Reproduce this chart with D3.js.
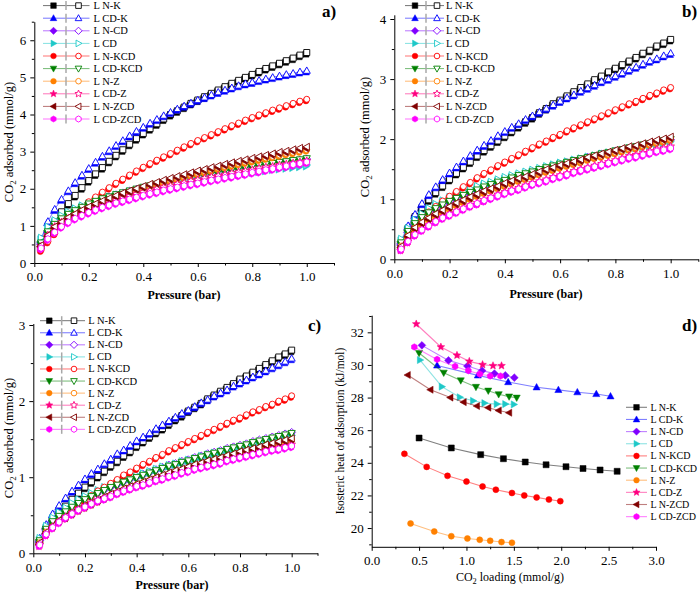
<!DOCTYPE html>
<html><head><meta charset="utf-8">
<script src="https://cdn.jsdelivr.net/npm/d3@7"></script>
<style>body{margin:0;background:#fff}svg text{font-family:"Liberation Serif","Times New Roman",serif;fill:#000}</style>
</head><body><svg id="chart" width="700" height="594"></svg>
<script>
// ---------------- DATA ----------------
const seriesLabels = ["L N-K","L CD-K","L N-CD","L CD","L N-KCD","L CD-KCD","L N-Z","L CD-Z","L N-ZCD","L CD-ZCD"];
const pressure = [0.025,0.05,0.075,0.1,0.125,0.15,0.175,0.2,0.225,0.25,0.275,0.3,0.325,0.35,0.375,0.4,0.425,0.45,0.475,0.5,0.525,0.55,0.575,0.6,0.625,0.65,0.675,0.7,0.725,0.75,0.775,0.8,0.825,0.85,0.875,0.9,0.925,0.95,0.975,1.0];

// panel a)
const a_NK    = [0.45,0.80,1.10,1.38,1.60,1.82,2.03,2.22,2.40,2.57,2.74,2.90,3.05,3.20,3.35,3.49,3.62,3.75,3.88,4.00,4.10,4.20,4.30,4.39,4.48,4.57,4.66,4.75,4.84,4.92,5.00,5.08,5.16,5.24,5.31,5.38,5.45,5.52,5.60,5.67];
const a_CDK   = [0.65,1.12,1.45,1.72,1.95,2.17,2.37,2.55,2.72,2.88,3.03,3.17,3.30,3.43,3.55,3.66,3.77,3.87,3.97,4.06,4.15,4.23,4.31,4.39,4.46,4.53,4.60,4.66,4.72,4.78,4.83,4.87,4.92,4.96,5.00,5.04,5.08,5.11,5.15,5.18];
const a_NCD   = [0.55,0.85,1.05,1.19,1.31,1.41,1.50,1.59,1.66,1.72,1.78,1.84,1.89,1.94,1.99,2.03,2.07,2.12,2.16,2.20,2.23,2.27,2.31,2.34,2.37,2.41,2.44,2.47,2.50,2.53,2.56,2.59,2.62,2.65,2.67,2.70,2.72,2.75,2.77,2.80];
const a_CD    = [0.68,0.98,1.15,1.28,1.38,1.47,1.55,1.62,1.69,1.74,1.79,1.84,1.88,1.93,1.97,2.01,2.04,2.08,2.11,2.14,2.18,2.21,2.24,2.27,2.29,2.32,2.35,2.37,2.40,2.42,2.44,2.47,2.49,2.51,2.54,2.56,2.58,2.60,2.62,2.64];
const a_NKCD  = [0.35,0.58,0.80,1.00,1.18,1.35,1.50,1.65,1.78,1.91,2.03,2.15,2.26,2.37,2.48,2.58,2.68,2.77,2.86,2.95,3.04,3.13,3.22,3.30,3.38,3.46,3.54,3.62,3.70,3.77,3.85,3.92,3.99,4.05,4.12,4.18,4.24,4.30,4.36,4.41];
const a_CDKCD = [0.55,0.85,1.05,1.20,1.32,1.42,1.51,1.60,1.67,1.74,1.79,1.85,1.90,1.95,2.00,2.05,2.09,2.13,2.17,2.21,2.25,2.29,2.32,2.36,2.39,2.43,2.46,2.49,2.52,2.55,2.58,2.61,2.64,2.66,2.69,2.72,2.74,2.77,2.79,2.82];
const a_NZ    = [0.42,0.72,0.95,1.08,1.20,1.30,1.39,1.48,1.56,1.63,1.70,1.78,1.84,1.90,1.96,2.02,2.07,2.13,2.18,2.23,2.28,2.33,2.38,2.42,2.47,2.51,2.56,2.60,2.64,2.68,2.72,2.76,2.80,2.83,2.87,2.91,2.95,2.98,3.02,3.05];
const a_CDZ   = [0.45,0.75,0.98,1.10,1.20,1.29,1.38,1.45,1.52,1.58,1.64,1.70,1.76,1.81,1.86,1.91,1.95,2.00,2.04,2.08,2.13,2.16,2.21,2.24,2.28,2.32,2.35,2.38,2.42,2.45,2.48,2.51,2.55,2.58,2.60,2.64,2.66,2.69,2.72,2.75];
const a_NZCD  = [0.48,0.75,0.98,1.11,1.23,1.33,1.43,1.52,1.60,1.68,1.75,1.82,1.89,1.95,2.01,2.07,2.13,2.18,2.24,2.29,2.34,2.39,2.44,2.49,2.53,2.58,2.62,2.67,2.71,2.75,2.79,2.83,2.87,2.91,2.95,2.99,3.02,3.06,3.10,3.13];
const a_CDZCD = [0.40,0.65,0.83,0.98,1.10,1.20,1.28,1.36,1.43,1.50,1.56,1.62,1.67,1.72,1.77,1.82,1.87,1.91,1.96,2.00,2.04,2.08,2.12,2.15,2.19,2.23,2.26,2.30,2.33,2.37,2.40,2.44,2.47,2.51,2.54,2.58,2.61,2.65,2.68,2.72];

// panel b)
const b_NK    = [0.27,0.52,0.71,0.86,0.99,1.11,1.22,1.33,1.43,1.53,1.62,1.72,1.81,1.89,1.97,2.05,2.13,2.21,2.29,2.36,2.44,2.51,2.59,2.65,2.72,2.79,2.86,2.92,2.99,3.05,3.12,3.18,3.24,3.30,3.36,3.43,3.48,3.55,3.60,3.66];
const b_CDK   = [0.30,0.56,0.75,0.93,1.08,1.21,1.33,1.44,1.54,1.64,1.73,1.82,1.90,1.98,2.06,2.13,2.20,2.26,2.33,2.39,2.45,2.51,2.57,2.63,2.69,2.74,2.80,2.85,2.90,2.96,3.00,3.05,3.10,3.15,3.20,3.25,3.30,3.34,3.39,3.43];
const b_NCD   = [0.28,0.47,0.60,0.70,0.78,0.85,0.91,0.97,1.02,1.07,1.11,1.16,1.20,1.24,1.28,1.32,1.36,1.39,1.43,1.46,1.49,1.52,1.55,1.58,1.61,1.64,1.67,1.70,1.72,1.75,1.77,1.80,1.82,1.85,1.87,1.90,1.92,1.94,1.97,1.99];
const b_CD    = [0.34,0.52,0.66,0.76,0.85,0.92,0.98,1.04,1.09,1.13,1.18,1.22,1.26,1.29,1.33,1.37,1.40,1.43,1.46,1.49,1.52,1.55,1.58,1.61,1.63,1.66,1.68,1.71,1.73,1.76,1.78,1.80,1.82,1.85,1.87,1.89,1.91,1.93,1.95,1.97];
const b_NKCD  = [0.20,0.40,0.55,0.68,0.79,0.88,0.97,1.05,1.13,1.21,1.28,1.36,1.43,1.49,1.56,1.62,1.68,1.74,1.80,1.86,1.92,1.97,2.03,2.08,2.14,2.19,2.24,2.29,2.34,2.39,2.44,2.49,2.54,2.59,2.63,2.68,2.73,2.77,2.82,2.86];
const b_CDKCD = [0.28,0.47,0.60,0.70,0.78,0.85,0.91,0.97,1.02,1.07,1.12,1.16,1.21,1.25,1.29,1.32,1.36,1.40,1.43,1.46,1.50,1.53,1.56,1.59,1.62,1.65,1.68,1.70,1.73,1.76,1.78,1.81,1.83,1.86,1.88,1.91,1.93,1.95,1.98,2.00];
const b_NZ    = [0.22,0.39,0.52,0.61,0.68,0.74,0.80,0.86,0.92,0.97,1.02,1.07,1.12,1.16,1.20,1.24,1.28,1.32,1.35,1.39,1.43,1.47,1.50,1.54,1.57,1.60,1.63,1.67,1.70,1.72,1.75,1.78,1.81,1.84,1.86,1.89,1.92,1.95,1.97,2.00];
const b_CDZ   = [0.17,0.30,0.42,0.50,0.57,0.64,0.70,0.75,0.80,0.85,0.90,0.94,0.99,1.04,1.08,1.12,1.16,1.19,1.23,1.27,1.30,1.33,1.37,1.40,1.43,1.47,1.50,1.53,1.56,1.59,1.62,1.65,1.68,1.72,1.74,1.77,1.80,1.83,1.85,1.88];
const b_NZCD  = [0.22,0.40,0.53,0.62,0.69,0.76,0.82,0.88,0.94,0.99,1.04,1.09,1.14,1.18,1.22,1.27,1.31,1.35,1.38,1.42,1.46,1.50,1.53,1.57,1.60,1.63,1.66,1.70,1.73,1.76,1.79,1.82,1.85,1.88,1.90,1.93,1.96,1.99,2.01,2.04];
const b_CDZCD = [0.17,0.30,0.41,0.49,0.56,0.63,0.69,0.74,0.79,0.84,0.89,0.93,0.98,1.02,1.06,1.10,1.14,1.17,1.21,1.25,1.28,1.31,1.35,1.38,1.41,1.45,1.48,1.51,1.54,1.57,1.60,1.63,1.66,1.69,1.71,1.74,1.77,1.80,1.82,1.85];

// panel c)
const c_NK    = [0.16,0.33,0.44,0.53,0.62,0.71,0.79,0.87,0.94,1.01,1.08,1.15,1.21,1.28,1.34,1.41,1.47,1.53,1.59,1.64,1.70,1.76,1.81,1.87,1.92,1.97,2.03,2.08,2.13,2.18,2.23,2.29,2.33,2.38,2.43,2.48,2.53,2.58,2.62,2.67];
const c_CDK   = [0.20,0.38,0.52,0.63,0.73,0.82,0.90,0.98,1.05,1.11,1.18,1.24,1.31,1.36,1.42,1.48,1.53,1.58,1.64,1.69,1.74,1.79,1.84,1.88,1.93,1.98,2.02,2.07,2.11,2.15,2.20,2.24,2.28,2.32,2.36,2.40,2.44,2.48,2.52,2.56];
const c_NCD   = [0.17,0.33,0.43,0.50,0.56,0.62,0.67,0.72,0.76,0.80,0.84,0.88,0.91,0.95,0.98,1.01,1.04,1.07,1.10,1.13,1.16,1.18,1.21,1.23,1.26,1.28,1.31,1.33,1.35,1.38,1.40,1.42,1.44,1.47,1.49,1.51,1.53,1.55,1.57,1.59];
const c_CD    = [0.20,0.36,0.47,0.54,0.60,0.66,0.71,0.75,0.79,0.83,0.87,0.90,0.94,0.97,1.00,1.03,1.05,1.08,1.11,1.14,1.16,1.18,1.21,1.23,1.25,1.28,1.30,1.32,1.34,1.36,1.38,1.40,1.42,1.44,1.46,1.48,1.50,1.51,1.53,1.55];
const c_NKCD  = [0.15,0.27,0.37,0.44,0.51,0.58,0.64,0.70,0.76,0.82,0.87,0.92,0.97,1.03,1.07,1.12,1.17,1.21,1.26,1.30,1.35,1.39,1.43,1.47,1.51,1.55,1.59,1.63,1.67,1.71,1.75,1.78,1.82,1.86,1.89,1.93,1.96,2.00,2.03,2.07];
const c_CDKCD = [0.17,0.32,0.42,0.49,0.55,0.61,0.66,0.71,0.75,0.79,0.83,0.87,0.90,0.94,0.97,1.00,1.03,1.06,1.09,1.12,1.15,1.17,1.20,1.22,1.25,1.27,1.30,1.32,1.34,1.37,1.39,1.41,1.43,1.46,1.48,1.50,1.52,1.54,1.56,1.58];
const c_NZ    = [0.14,0.28,0.35,0.42,0.47,0.52,0.57,0.61,0.65,0.69,0.73,0.77,0.80,0.84,0.87,0.90,0.93,0.96,0.99,1.01,1.04,1.07,1.09,1.12,1.15,1.17,1.20,1.22,1.24,1.27,1.29,1.32,1.34,1.36,1.38,1.41,1.43,1.45,1.47,1.49];
const c_CDZ   = [0.11,0.25,0.35,0.42,0.48,0.53,0.58,0.62,0.66,0.70,0.73,0.76,0.80,0.83,0.86,0.89,0.91,0.94,0.97,0.99,1.03,1.05,1.08,1.10,1.13,1.15,1.17,1.19,1.21,1.24,1.26,1.28,1.30,1.32,1.34,1.36,1.38,1.39,1.41,1.43];
const c_NZCD  = [0.14,0.28,0.36,0.43,0.48,0.53,0.58,0.62,0.66,0.70,0.74,0.78,0.81,0.85,0.88,0.91,0.94,0.97,1.00,1.03,1.06,1.09,1.11,1.14,1.17,1.19,1.22,1.24,1.26,1.29,1.31,1.34,1.36,1.38,1.40,1.43,1.45,1.47,1.49,1.51];
const c_CDZCD = [0.11,0.25,0.34,0.41,0.47,0.52,0.57,0.61,0.65,0.69,0.72,0.75,0.79,0.82,0.85,0.88,0.90,0.93,0.96,0.98,1.01,1.03,1.06,1.08,1.11,1.13,1.15,1.17,1.19,1.22,1.24,1.26,1.28,1.30,1.32,1.34,1.36,1.37,1.39,1.41];

// panel d)  CO2 loading (mmol/g) and isosteric heat (kJ/mol)
const d_NK_load    = [0.50,0.84,1.15,1.39,1.62,1.84,2.05,2.23,2.41,2.59];
const d_NK_heat    = [25.52,24.91,24.50,24.25,24.05,23.88,23.76,23.65,23.56,23.48];
const d_CDK_load   = [0.69,1.12,1.44,1.74,1.97,2.17,2.37,2.52];
const d_CDK_heat   = [29.97,29.36,28.95,28.63,28.47,28.33,28.22,28.08];
const d_NCD_load   = [0.53,0.81,1.01,1.165,1.295,1.41,1.505];
const d_NCD_heat   = [31.20,30.28,29.93,29.65,29.47,29.36,29.22];
const d_CD_load    = [0.51,0.74,0.93,1.07,1.19,1.32,1.41,1.50];
const d_CD_heat    = [30.30,28.67,28.02,27.80,27.66,27.60,27.60,27.58];
const d_NKCD_load  = [0.345,0.58,0.80,1.00,1.17,1.31,1.48,1.61,1.74,1.87,1.99];
const d_NKCD_heat  = [24.55,23.75,23.20,22.85,22.55,22.35,22.15,22.00,21.88,21.75,21.65];
const d_CDKCD_load = [0.50,0.76,0.94,1.10,1.23,1.34,1.45,1.53];
const d_CDKCD_heat = [30.73,29.52,29.05,28.65,28.42,28.20,28.06,27.99];
const d_NZ_load    = [0.41,0.66,0.84,1.01,1.14,1.25,1.37,1.48];
const d_NZ_heat    = [20.28,19.79,19.50,19.36,19.28,19.22,19.14,19.10];
const d_CDZ_load   = [0.47,0.73,0.90,1.03,1.17,1.28,1.37];
const d_CDZ_heat   = [32.51,31.10,30.59,30.22,30.02,29.95,29.95];
const d_NZCD_load  = [0.38,0.62,0.83,0.97,1.11,1.23,1.34,1.45];
const d_NZCD_heat  = [29.38,28.48,28.00,27.72,27.48,27.38,27.21,27.07];
const d_CDZCD_load = [0.45,0.69,0.88,1.02,1.14,1.25,1.36];
const d_CDZCD_heat = [31.10,30.34,29.91,29.65,29.44,29.32,29.32];

// tick values
const isoXTicks = [0,0.2,0.4,0.6,0.8,1.0];
const aYTicks = [0,1,2,3,4,5,6];
const bYTicks = [0,1,2,3,4];
const cYTicks = [0,1,2,3];
const dXTicks = [0,0.5,1.0,1.5,2.0,2.5,3.0];
const dYTicks = [20,22,24,26,28,30,32];

// ---------------- STYLE ----------------
const styles = [
  {c:"#000000", s:"square"},
  {c:"#0000ff", s:"triUp"},
  {c:"#8000ff", s:"diamond"},
  {c:"#1ec8c8", s:"triRight"},
  {c:"#ff0000", s:"circle"},
  {c:"#008000", s:"triDown"},
  {c:"#ff8000", s:"circle"},
  {c:"#ff0080", s:"star"},
  {c:"#800000", s:"triLeft"},
  {c:"#ff00ff", s:"hexagon"}
];
function shapePath(t, r){
  let a;
  switch(t){
    case "square": return `M${-r},${-r}H${r}V${r}H${-r}Z`;
    case "circle": return `M${r},0A${r},${r} 0 1,1 ${-r},0A${r},${r} 0 1,1 ${r},0Z`;
    case "triUp": a=r*1.25; return `M0,${-a}L${a*0.95},${a*0.7}L${-a*0.95},${a*0.7}Z`;
    case "triDown": a=r*1.25; return `M0,${a}L${a*0.95},${-a*0.7}L${-a*0.95},${-a*0.7}Z`;
    case "triRight": a=r*1.25; return `M${a},0L${-a*0.7},${a*0.95}L${-a*0.7},${-a*0.95}Z`;
    case "triLeft": a=r*1.25; return `M${-a},0L${a*0.7},${a*0.95}L${a*0.7},${-a*0.95}Z`;
    case "diamond": a=r*1.3; return `M0,${-a}L${a},0L0,${a}L${-a},0Z`;
    case "hexagon": { a=r*1.1; let p=""; for(let i=0;i<6;i++){const an=Math.PI/3*i+Math.PI/6; p+=(i?"L":"M")+(a*Math.cos(an)).toFixed(2)+","+(a*Math.sin(an)).toFixed(2);} return p+"Z"; }
    case "star": { const o=r*1.35, n=o*0.45; let p=""; for(let i=0;i<10;i++){const rr=i%2?n:o; const an=-Math.PI/2+i*Math.PI/5; p+=(i?"L":"M")+(rr*Math.cos(an)).toFixed(2)+","+(rr*Math.sin(an)).toFixed(2);} return p+"Z"; }
  }
}

const svg = d3.select("#chart");
svg.append("rect").attr("width",700).attr("height",594).attr("fill","#fff");

function styleAxis(g, fs){
  g.select(".domain").attr("stroke","#000").attr("stroke-width",1);
  g.selectAll(".tick line").attr("stroke","#000").attr("stroke-width",1);
  g.selectAll("text").attr("font-family","Liberation Serif, Times New Roman, serif").attr("font-size",fs).attr("fill","#000");
}
function drawAxes(x, y, xMaj, xMin, yMaj, yMin, xf, yf){
  const yb = y.range()[0], xl = x.range()[0];
  const gx = svg.append("g").attr("transform",`translate(0,${yb})`)
    .call(d3.axisBottom(x).tickValues(xMaj).tickSize(4).tickSizeOuter(0).tickPadding(5).tickFormat(xf));
  styleAxis(gx, 13);
  const gx2 = svg.append("g").attr("transform",`translate(0,${yb})`)
    .call(d3.axisBottom(x).tickValues(xMin).tickSize(2.5).tickSizeOuter(0).tickFormat(""));
  styleAxis(gx2, 12); gx2.select(".domain").remove();
  const gy = svg.append("g").attr("transform",`translate(${xl},0)`)
    .call(d3.axisLeft(y).tickValues(yMaj).tickSize(4).tickSizeOuter(0).tickPadding(4).tickFormat(yf));
  styleAxis(gy, 13);
  const gy2 = svg.append("g").attr("transform",`translate(${xl},0)`)
    .call(d3.axisLeft(y).tickValues(yMin).tickSize(2.5).tickSizeOuter(0).tickFormat(""));
  styleAxis(gy2, 12); gy2.select(".domain").remove();
}
function yTitle(x, y, parts, fs, bold){
  const t = svg.append("text").attr("transform",`translate(${x},${y}) rotate(-90)`)
    .attr("text-anchor","middle").attr("font-size",fs).attr("font-weight",bold?"bold":"normal");
  parts.forEach(p=>{ const ts=t.append("tspan").text(p.t); if(p.sub){ts.attr("font-size",fs*0.7).attr("dy",3);} else if(p.after){ts.attr("dy",-3);} });
}
function xTitle(x, y, parts, fs, bold){
  const t = svg.append("text").attr("x",x).attr("y",y).attr("text-anchor","middle")
    .attr("font-size",fs).attr("font-weight",bold?"bold":"normal");
  parts.forEach(p=>{ const ts=t.append("tspan").text(p.t); if(p.sub){ts.attr("font-size",fs*0.7).attr("dy",3);} else if(p.after){ts.attr("dy",-3);} });
}
const fmt1 = d3.format(".1f"), fmtD = d3.format("d");
const co2Ads = [{t:"CO"},{t:"2",sub:true},{t:" adsorbed (mmol/g)",after:true}];

function isoPanel(cfg){
  const x = d3.scaleLinear().domain([0,1.1]).range(cfg.xr);
  const y = d3.scaleLinear().domain(cfg.yd).range(cfg.yr);
  drawAxes(x, y, isoXTicks, [0.1,0.3,0.5,0.7,0.9,1.1], cfg.yTicks, cfg.yMinor, fmt1, fmtD);
  const line = d3.line().x((d,i)=>x(pressure[i])).y(d=>y(d));
  const r = 3.0;
  cfg.series.forEach((vals, k)=>{
    const st = styles[k];
    const g = svg.append("g");
    g.append("path").attr("d", line(vals)).attr("fill","none").attr("stroke",st.c).attr("stroke-opacity",0.55).attr("stroke-width",1);
    g.selectAll("path.f").data(vals).enter().append("path").attr("class","f")
      .attr("d", shapePath(st.s, r)).attr("transform",(d,i)=>`translate(${x(pressure[i])-0.8},${y(d)+1.6})`)
      .attr("fill",st.c).attr("stroke",st.c).attr("stroke-width",0.5);
    g.selectAll("path.o").data(vals).enter().append("path").attr("class","o")
      .attr("d", shapePath(st.s, r)).attr("transform",(d,i)=>`translate(${x(pressure[i])},${y(d)})`)
      .attr("fill","#fff").attr("stroke",st.c).attr("stroke-width",0.9);
  });
  // legend
  const L = cfg.leg;
  seriesLabels.forEach((lab,k)=>{
    const st = styles[k], yy = L.y0 + k*L.dy;
    svg.append("line").attr("x1",L.x0).attr("x2",L.x1).attr("y1",yy).attr("y2",yy).attr("stroke",st.c).attr("stroke-opacity",0.55).attr("stroke-width",1);
    svg.append("line").attr("x1",L.bx).attr("x2",L.bx).attr("y1",yy-4.5).attr("y2",yy+4.5).attr("stroke","#a8a8a8").attr("stroke-width",1.5);
    svg.append("path").attr("d",shapePath(st.s,2.8)).attr("transform",`translate(${L.fx},${yy})`).attr("fill",st.c).attr("stroke",st.c).attr("stroke-width",0.5);
    svg.append("path").attr("d",shapePath(st.s,2.8)).attr("transform",`translate(${L.ox},${yy})`).attr("fill","#fff").attr("stroke",st.c).attr("stroke-width",0.9);
    svg.append("text").attr("x",L.tx).attr("y",yy+3.5).attr("font-size",10.5).text(lab);
  });
  svg.append("text").attr("x",cfg.letter[0]).attr("y",cfg.letter[1]).attr("font-size",17).attr("font-weight","bold").text(cfg.letter[2]);
  xTitle(cfg.xt[0], cfg.xt[1], [{t:"Pressure (bar)"}], 12, true);
  yTitle(cfg.yt[0], cfg.yt[1], co2Ads, 12.5, false);
}

isoPanel({xr:[34.3,334.0], yd:[0,6.5], yr:[263,21.7], yTicks:aYTicks, yMinor:[0.5,1.5,2.5,3.5,4.5,5.5,6.5],
  series:[a_NK,a_CDK,a_NCD,a_CD,a_NKCD,a_CDKCD,a_NZ,a_CDZ,a_NZCD,a_CDZCD],
  leg:{x0:43,fx:53.5,bx:66,ox:78.5,x1:89.5,tx:93.5,y0:5.6,dy:12.6}, letter:[322,17,"a)"], xt:[184,299], yt:[13,142]});
isoPanel({xr:[394.3,698.3], yd:[0,4.07], yr:[259.3,14.8], yTicks:bYTicks, yMinor:[0.5,1.5,2.5,3.5],
  series:[b_NK,b_CDK,b_NCD,b_CD,b_NKCD,b_CDKCD,b_NZ,b_CDZ,b_NZCD,b_CDZCD],
  leg:{x0:405,fx:415,bx:426,ox:437,x1:444,tx:446,y0:5.6,dy:12.6}, letter:[682,17,"b)"], xt:[546,298], yt:[369,137]});
isoPanel({xr:[33.3,317.5], yd:[0,3.02], yr:[553.3,323.5], yTicks:cYTicks, yMinor:[0.5,1.5,2.5],
  series:[c_NK,c_CDK,c_NCD,c_CD,c_NKCD,c_CDKCD,c_NZ,c_CDZ,c_NZCD,c_CDZCD],
  leg:{x0:40,fx:49.3,bx:61.7,ox:74,x1:85,tx:88.3,y0:320.7,dy:12.07}, letter:[308,331,"c)"], xt:[172,589], yt:[13,438]});

// panel d
(function(){
  const x = d3.scaleLinear().domain([0,3]).range([371.7,656]);
  const y = d3.scaleLinear().domain([18.85,33.05]).range([546.8,315.2]);
  drawAxes(x, y, dXTicks, [0.25,0.75,1.25,1.75,2.25,2.75], dYTicks, [19,21,23,25,27,29,31,33], fmt1, fmtD);
  const loads = [d_NK_load,d_CDK_load,d_NCD_load,d_CD_load,d_NKCD_load,d_CDKCD_load,d_NZ_load,d_CDZ_load,d_NZCD_load,d_CDZCD_load];
  const heats = [d_NK_heat,d_CDK_heat,d_NCD_heat,d_CD_heat,d_NKCD_heat,d_CDKCD_heat,d_NZ_heat,d_CDZ_heat,d_NZCD_heat,d_CDZCD_heat];
  loads.forEach((lx,k)=>{
    const st = styles[k], hy = heats[k];
    const line = d3.line().x(d=>x(d)).y((d,i)=>y(hy[i]));
    svg.append("path").attr("d",line(lx)).attr("fill","none").attr("stroke",st.c).attr("stroke-opacity",0.5).attr("stroke-width",1.1);
    svg.append("g").selectAll("path").data(lx).enter().append("path")
      .attr("d",shapePath(st.s,3)).attr("transform",(d,i)=>`translate(${x(d)},${y(hy[i])})`)
      .attr("fill",st.c).attr("stroke",st.c).attr("stroke-width",0.5);
  });
  const L = {x0:626,mx:636.5,x1:647,tx:650.5,y0:407.3,dy:12.15};
  seriesLabels.forEach((lab,k)=>{
    const st = styles[k], yy = L.y0 + k*L.dy;
    svg.append("line").attr("x1",L.x0).attr("x2",L.x1).attr("y1",yy).attr("y2",yy).attr("stroke",st.c).attr("stroke-opacity",0.5).attr("stroke-width",1.1);
    svg.append("path").attr("d",shapePath(st.s,2.8)).attr("transform",`translate(${L.mx},${yy})`).attr("fill",st.c).attr("stroke",st.c).attr("stroke-width",0.5);
    svg.append("text").attr("x",L.tx).attr("y",yy+3.5).attr("font-size",10).text(lab);
  });
  svg.append("text").attr("x",682).attr("y",331).attr("font-size",17).attr("font-weight","bold").text("d)");
  xTitle(510, 581, [{t:"CO"},{t:"2",sub:true},{t:" loading (mmol/g)",after:true}], 12, false);
  yTitle(344, 431, [{t:"Isosteric heat of adsorption (kJ/mol)"}], 11.5, false);
})();
</script></body></html>
